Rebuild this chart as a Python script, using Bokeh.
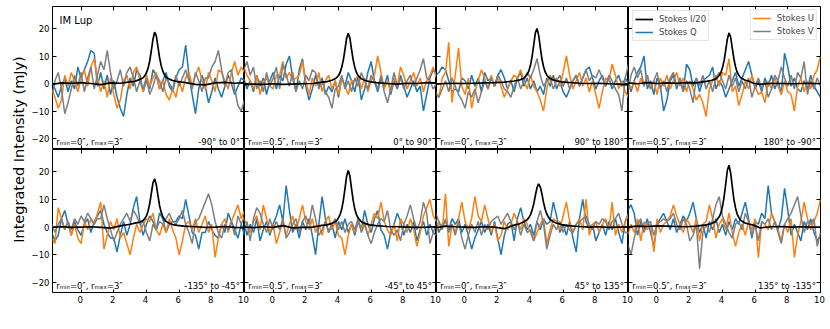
import numpy as np
from bokeh.plotting import figure
from bokeh.layouts import gridplot, row, column
from bokeh.models import (LinearAxis, FixedTicker, Label, Legend, LegendItem,
                          Range1d, CustomJSTickFormatter)
from bokeh.embed import file_html
from bokeh.resources import INLINE

FONT = "DejaVu Sans"
BLUE, ORANGE, GRAY = "#1f77b4", "#ff7f0e", "#7f7f7f"

# spectral channels of the polarisation spectra (km/s)
velocity = np.round(np.linspace(-1.8, 10.0, 60), 1)
# channels of the Stokes I/20 profile
vel_I = [-1.8, -1.2, -0.6, 0.0, 0.6, 1.2, 1.8, 2.4, 3.0, 3.3, 3.6, 3.8, 3.9,
         4.0, 4.1, 4.2, 4.3, 4.4, 4.5, 4.6, 4.7, 4.8, 4.9, 5.0, 5.1, 5.2,
         5.4, 5.6, 5.9, 6.3, 7.0, 7.6, 8.2, 8.8, 9.4, 10.0]

# ---- Stokes I / 20 (mJy) ----
I1 = [-0.3, 0.2, 0.1, 0.3, 0.0, -0.4, 0.2, 0.1, 0.6, 0.8, 1.5, 2.1, 2.8, 3.9, 5.6, 8.2, 12.0, 16.1, 18.7, 17.4, 13.5, 9.5, 6.5, 4.5, 3.2, 2.3, 1.6, 1.1, 0.7, 0.4, -0.3, -0.5, 0.2, 0.4, 0.1, 0.3]
I2 = [-0.4, -0.2, -0.3, -0.1, -0.3, -0.2, -0.1, 0.0, 0.5, 0.7, 1.2, 1.7, 2.2, 2.9, 4.0, 5.9, 8.6, 12.4, 16.5, 18.3, 16.5, 12.4, 8.6, 5.9, 4.0, 2.9, 1.7, 1.2, 0.7, 0.3, 0.0, -0.2, 0.1, 0.0, 0.3, 0.2]
I3 = [-0.2, 0.0, 0.1, 0.0, 0.1, 0.2, 0.3, 0.5, 0.9, 1.2, 1.9, 3.3, 4.5, 6.6, 9.8, 14.0, 18.4, 20.0, 17.6, 13.2, 9.0, 6.2, 4.2, 3.1, 2.3, 1.9, 1.3, 1.0, 0.6, 0.4, 0.1, 0.0, 0.1, -0.1, -0.2, -0.5]
I4 = [0.2, -0.1, 0.3, 0.0, 0.2, 0.1, 0.3, 0.2, 0.8, 1.1, 1.7, 2.9, 3.9, 5.7, 8.3, 12.1, 16.2, 18.4, 16.9, 12.9, 9.0, 6.1, 4.1, 3.0, 2.2, 1.8, 1.2, 0.9, 0.1, -0.3, 0.1, 0.0, -0.1, 0.0, 0.1, -0.1]
I5 = [0.0, 0.1, -0.1, 0.0, 0.1, -0.1, -0.4, 0.4, 1.0, 1.4, 1.8, 2.4, 3.1, 4.0, 5.8, 8.5, 12.2, 16.0, 17.4, 15.3, 11.5, 7.8, 5.4, 3.7, 2.7, 2.0, 1.4, 0.9, 0.6, 0.3, 0.1, -0.1, 0.0, 0.2, -0.1, -0.2]
I6 = [0.0, -0.2, 0.1, -0.1, 0.5, -0.3, -0.1, 0.0, 0.6, 0.8, 1.3, 1.9, 2.4, 3.3, 4.5, 6.5, 9.6, 13.9, 18.4, 20.4, 18.4, 13.9, 9.6, 6.5, 4.5, 3.3, 1.9, 1.3, 0.8, 0.5, 0.2, 0.1, 0.0, -0.1, 0.0, 0.2]
I7 = [-0.2, 0.3, 0.1, 0.0, -0.1, 0.1, 0.0, -0.6, 0.7, 1.1, 1.9, 2.6, 3.4, 4.4, 6.1, 8.3, 11.4, 14.2, 15.6, 14.5, 12.0, 8.9, 6.4, 4.7, 3.6, 2.7, 1.9, 1.4, 0.9, 0.5, 0.2, 0.0, 0.1, -0.1, 0.0, 0.1]
I8 = [0.1, 0.3, 0.2, 0.4, 0.3, 0.2, 0.1, 0.3, 0.8, 1.2, 2.1, 3.7, 5.0, 7.4, 10.9, 15.6, 20.5, 22.3, 19.6, 14.7, 10.0, 6.9, 4.7, 3.5, 2.6, 2.1, 1.4, 1.1, 0.7, -0.3, 0.1, 0.2, 0.0, 0.1, 0.0, 0.0]

# ---- Stokes Q (mJy) ----
Q1 = [1, -2, -5, -1, 2, -3, 1, -2, 6, 2, 5, 8, 12, 11, -1, 4, -2, 3, -4, 1, -5, -9, -12, -4, 2, -1, 5, 3, -3, 1, -2, 5, 3, -2, 1, 4, -1, -3, 2, 5, 6, 14, 3, -4, -11, -2, 3, -1, -7, -3, 2, -2, -5, -1, 3, 0, -4, -1, 2, 1]
Q2 = [2, -2, 1, -3, 3, -1, 2, -4, 1, 4, -2, 3, 1, 7, 10, 2, -3, 5, 9, -1, -6, -2, 3, -1, 2, -4, -1, -3, 1, -5, 2, -1, 4, 1, -3, 3, -6, -2, 4, 8, 1, -3, 2, -1, 3, -4, 1, -2, 3, -1, -5, -2, 1, -3, -1, -10, -4, 2, 5, 3]
Q3 = [3, 4, 6, 5, 1, -3, -2, -3, 2, 1, -2, 3, -1, 2, -3, 4, 1, 2, -1, 3, 5, 2, -2, 1, -3, 2, 4, -1, 2, -2, 1, -3, -1, -4, 2, -1, 3, -2, 1, -3, -5, -2, 1, 3, -1, 2, 5, 6, 2, -2, 1, 3, -1, 2, -2, 1, 3, -1, 2, 0]
Q4 = [2, -3, 1, 4, 6, 10, -2, 1, -4, 2, -1, -10, -6, 1, 3, -2, 2, -3, 7, 5, -1, 2, -3, 1, 2, 3, 6, -2, 1, -1, -5, -2, 1, 4, -1, 2, 5, 8, 3, -2, 1, -3, 2, -1, 3, -2, 1, -4, 11, 6, -1, 2, -2, -3, 1, -2, 3, -1, -3, -5]
Q5 = [-2, -5, -3, 3, 6, 1, -3, 2, -1, -3, 1, 3, -2, 2, 4, 6, 1, -2, -4, -4, -9, -3, 2, -3, 1, 7, 11, 2, -3, 1, 4, 2, -1, 5, 3, -2, 1, 2, 2, 4, 3, 10, 4, -2, -3, -8, -2, -2, 2, -1, -3, -4, 1, -2, 5, 2, -1, -4, 1, -3]
Q6 = [2, -3, 1, -2, 3, -5, -1, 2, -3, 1, 4, 8, 2, 15, 6, -2, 1, -4, 2, -1, 3, -3, -10, 1, 11, 3, -2, 1, -4, 2, -1, 3, -2, 1, -3, 2, -1, 6, 1, -2, 3, 6, -1, -3, -8, -2, 1, 5, 2, -3, 1, -2, 2, -5, -1, 2, -3, 1, -2, -3]
Q7 = [3, -2, 1, 2, -1, 3, 1, 3, -2, 1, -3, -8, -4, -1, 2, -2, 1, -3, 2, -4, -10, -3, 1, 2, -5, 3, 7, 2, -1, 1, -3, 2, -1, 3, 1, 2, 9, 4, -2, 1, -3, 2, -4, -9, 3, 10, 2, -1, 1, -5, -2, 1, -3, 2, -1, 3, -2, -6, 2, 5]
Q8 = [6, 8, 5, -3, 2, -1, 3, -2, -7, 1, 3, 5, 2, -1, 3, -2, 1, 4, 2, 5, 9, 3, -2, 1, -4, 2, -1, 3, -2, 1, -3, 2, -1, 3, 1, 5, 9, 3, -4, 2, 1, 5, 3, 15, 5, 2, -1, 3, 14, 6, -3, 1, -2, -5, 2, -1, 3, -2, -5, -3]

# ---- Stokes U (mJy) ----
U1 = [-2, -5, -9, -6, 3, -1, 4, 1, -3, 2, 5, -1, 6, 9, 2, -3, 1, -5, 2, -4, -9, -6, 1, 3, -2, 4, 6, 1, -3, 3, -1, 2, 4, -2, 1, -4, -6, -2, -5, 1, -3, 2, 4, -1, 3, 6, 1, -2, 4, 1, -3, 5, 4, 1, -2, 4, 8, 3, 6, 4]
U2 = [6, 3, 1, -2, 3, -4, 1, 2, -1, -2, 3, 3, 8, 2, 4, 1, 2, 3, 8, 1, -4, 2, -1, 4, -3, 1, 3, -2, 1, -4, 2, -1, -4, 1, 1, 3, -2, 2, -3, 1, 3, 10, 4, -2, 1, -3, 2, -1, 6, 3, -2, 1, 4, -1, 2, -3, 1, 3, 6, 2]
U3 = [-3, -5, 2, 4, 15, -7, 3, 13, -1, -4, 2, -9, -3, 1, 5, 2, -2, 3, -1, 2, -1, -5, -2, 1, 3, 2, 5, 1, -2, 3, -1, -3, -6, -10, -2, 3, 1, 2, -1, 4, 10, 3, -2, 1, 4, -1, 2, -3, 1, -4, -9, -3, 2, 1, 7, 3, -2, 1, -3, -5]
U4 = [-1, -2, 1, -3, 2, -1, 3, -2, 1, -4, 2, -1, 3, -2, 1, 4, -1, 2, -3, 1, -2, -6, -4, -7, -12, -2, 1, 3, -1, 4, 3, 9, -3, -1, -8, -4, 1, -2, 3, -1, -4, -3, -7, 1, -2, 2, -1, -4, 1, -3, -4, -10, -1, 2, -3, 1, -2, 3, 5, 10]
U5 = [-4, -6, 7, 3, -1, 2, -3, 1, -4, -6, 2, -1, 3, 1, 5, 9, -8, -3, 2, -1, 3, -4, -2, -6, -10, -4, 1, -2, 1, 3, 2, 5, -1, -3, 1, -2, 3, -1, -4, -10, -5, 1, 2, -1, 3, -2, 1, 4, -2, 1, -11, -4, 1, 3, -2, 2, 5, 8, 3, 6]
U6 = [3, 1, -2, 2, 4, -1, 8, 3, -2, 1, -6, -2, 2, -3, 1, 4, -1, 3, 8, 2, -1, 3, -2, 1, -3, 2, 4, -1, 2, -3, -4, -10, -3, 1, -2, 3, -1, 2, -3, 1, 5, 3, 9, 2, -1, -3, 1, -5, 3, 1, -2, 3, -1, -7, -2, 4, 7, 10, 4, 2]
U7 = [-3, 2, -1, 12, -7, 1, -2, 3, 9, 2, -1, 3, 11, 4, 2, 8, 3, -2, 1, -5, -3, 2, -1, 1, 5, 2, -1, 3, 1, -2, -5, -2, 1, 3, -6, -1, 3, 2, -1, 4, 9, 2, -2, 1, 3, -1, 10, -3, 1, 2, -2, 1, 3, -1, 9, -3, 1, -2, 2, 4]
U8 = [-3, 1, -2, 3, -5, 2, -1, 1, -9, 3, -2, 1, 2, 4, 8, 4, 1, -2, 3, 1, -2, 3, -5, 1, 2, 8, 3, -4, 1, 3, -1, 5, -2, -7, -2, 1, -3, 2, -1, 3, -11, 2, 1, -1, 5, 2, -1, -5, 1, -2, 3, -11, -3, 2, 9, 3, -1, 2, 5, 10]

# ---- Stokes V (mJy) ----
V1 = [-5, 1, 4, -2, -11, -7, -2, 3, -1, 4, -3, 2, 6, -2, 3, 8, 5, 12, 4, -2, 1, 5, -1, 4, 6, 2, -3, 1, -2, 2, -4, -1, 3, 1, -3, 2, 0, -2, 3, -1, 2, 5, 1, -2, 4, 1, -3, 2, 2, 6, 8, 12, 5, -1, 4, 5, -2, -8, -10, -6]
V2 = [5, 8, 3, 6, -2, 1, -3, 4, -1, 2, 6, -2, 7, 3, -1, 4, -3, 1, -2, 3, 1, 5, 4, -2, 1, -3, -5, -9, -2, -1, 3, -2, 1, -3, 2, -1, 4, 1, -2, 3, 1, -2, 3, -3, -7, -2, 4, -1, 2, -2, 1, 3, -1, 2, 5, 9, 2, 1, -2, 0]
V3 = [-4, -5, -2, 1, -3, 2, -1, -4, -6, -9, -3, -5, -2, -7, -3, 1, -2, 2, -1, 3, 1, -2, -3, -5, -1, 2, -2, 1, 4, 2, 5, 9, 3, -1, 1, 2, -2, 1, 3, -1, 2, -2, 1, 3, -1, 2, 5, 1, 3, 2, 5, 2, -1, 3, 1, -2, -4, -10, 2, 7]
V4 = [-4, 3, 6, 2, 5, -1, 3, -2, 1, 4, -2, 1, -3, 2, 4, -1, 2, -3, 1, -2, -7, 2, -1, 3, -2, 1, -3, 2, 4, 1, -2, 3, -1, 2, -3, 1, -2, 2, -5, -1, 2, -2, 1, -5, -2, 3, 1, 6, 2, -1, 3, -2, 4, 2, 8, -4, 1, -2, 2, -1]
V5 = [1, -2, 1, 3, -1, 2, -1, 3, 1, 4, 2, 5, 3, 1, 3, 3, 8, 3, -1, -5, -2, 1, 3, 5, 2, 6, 4, 1, 2, -2, -5, 1, -1, 2, 1, 3, 5, 2, 1, 3, 6, 1, -2, -6, 2, 3, 6, 9, 12, 8, 2, -2, -4, 1, -1, 2, -3, 4, 1, 4]
V6 = [-3, 2, -5, 3, 7, 5, 1, -2, 3, -1, 2, -1, 3, -4, -2, 1, 3, -2, 2, 4, 1, 8, 3, -3, -1, 2, -2, 1, 3, -1, 2, -2, 1, 2, -1, 3, -2, 1, -3, -6, -2, 1, 3, 2, 6, -1, -3, -1, -5, 1, 4, 8, 3, -1, 2, 9, 5, -6, -2, 1]
V7 = [5, 2, -1, 3, -2, 1, -3, 2, -4, -8, -3, 1, -2, 2, -3, 1, -1, 2, 3, 4, 1, 3, 5, 2, -1, 2, -3, 1, -2, -1, -5, 2, 6, 1, -8, -3, 1, -1, 2, -2, 1, -1, -2, 1, 2, 3, 4, 1, -1, 2, 1, 3, 2, -1, 2, 3, 5, 1, -2, -2]
V8 = [-6, -10, -4, 1, 3, -2, 1, 2, -3, 1, 2, 3, 2, 3, 5, 1, -1, 3, 1, -5, -3, 1, -15, -2, 1, -2, 3, 8, 11, 4, 1, -2, -4, 1, 2, -1, 5, 2, -3, 1, -5, 2, 1, 3, -1, 2, -2, -6, 1, 3, 5, 8, 11, 4, -2, 2, 1, 3, -7, -2]

x_ticks = [0, 2, 4, 6, 8, 10]
y_ticks = [-20, -10, 0, 10, 20]
x_start, x_end = -1.75, 10.0
radius_labels = ["rₘᵢₙ=0″, rₘₐₓ=3″", "rₘᵢₙ=0.5″, rₘₐₓ=3″"] * 4
angle_labels = ["-90° to 0°", "0° to 90°", "90° to 180°", "180° to -90°",
                "-135° to -45°", "-45° to 45°", "45° to 135°", "135° to -135°"]

panels = [(I1, Q1, U1, V1), (I2, Q2, U2, V2), (I3, Q3, U3, V3), (I4, Q4, U4, V4),
          (I5, Q5, U5, V5), (I6, Q6, U6, V6), (I7, Q7, U7, V7), (I8, Q8, U8, V8)]

blank = CustomJSTickFormatter(code="return '';")
minus = CustomJSTickFormatter(code="return tick < 0 ? '\u2212' + Math.abs(tick) : String(tick);")


def style_axis(ax, show, fmt=None):
    ax.axis_line_color = None
    ax.major_tick_in = 4
    ax.major_tick_out = 0
    ax.major_tick_line_color = "black"
    ax.major_tick_line_width = 1
    ax.minor_tick_line_color = None
    if show:
        ax.major_label_text_font_size = "8.5px"
        ax.major_label_text_font = FONT
        ax.major_label_text_color = "black"
        ax.major_label_standoff = 3
        if fmt is not None:
            ax.formatter = fmt
    else:
        ax.formatter = blank
        ax.major_label_text_font_size = "0px"
        ax.major_label_standoff = 0


figs = []
for k, (I, Q, U, V) in enumerate(panels):
    r, c = divmod(k, 4)
    p = figure(frame_width=192, frame_height=143 if r == 0 else 144,
               x_range=Range1d(x_start, x_end), y_range=Range1d(-24, 28),
               output_backend="svg", toolbar_location=None, tools="",
               x_axis_location=None, y_axis_location=None, min_border=0,
               min_border_top=6 if r == 0 else 0, min_border_bottom=0,
               min_border_right=10 if c == 3 else 0,
               background_fill_color="white", border_fill_color=None,
               outline_line_color="black", outline_line_width=1)
    p.grid.visible = False
    for side in ("below", "above"):
        ax = LinearAxis(ticker=FixedTicker(ticks=x_ticks, minor_ticks=[]))
        style_axis(ax, False)
        p.add_layout(ax, side)
    for side in ("left", "right"):
        ax = LinearAxis(ticker=FixedTicker(ticks=y_ticks, minor_ticks=[]))
        style_axis(ax, side == "left" and c == 0, minus)
        p.add_layout(ax, side)

    rq = p.line(velocity, Q, line_color=BLUE, line_width=1.5)
    ru = p.line(velocity, U, line_color=ORANGE, line_width=1.5)
    rv = p.line(velocity, V, line_color=GRAY, line_width=1.5)
    ri = p.line(vel_I, I, line_color="black", line_width=1.7)

    p.add_layout(Label(x=-1.52, y=-21.3, text=radius_labels[k], text_align="left",
                       text_baseline="alphabetic", text_font=FONT,
                       text_font_size="8.5px", text_color="black"))
    p.add_layout(Label(x=9.72, y=-21.3, text=angle_labels[k], text_align="right",
                       text_baseline="alphabetic", text_font=FONT,
                       text_font_size="8.5px", text_color="black"))
    if k == 0:
        p.add_layout(Label(x=-1.32, y=22.8, text="IM Lup", text_align="left",
                           text_baseline="alphabetic", text_font=FONT,
                           text_font_size="10px", text_color="black"))
    if k == 3:
        leg1 = Legend(items=[LegendItem(label="Stokes I/20", renderers=[ri]),
                             LegendItem(label="Stokes Q", renderers=[rq])],
                      location="top_left", margin=4)
        leg2 = Legend(items=[LegendItem(label="Stokes U", renderers=[ru]),
                             LegendItem(label="Stokes V", renderers=[rv])],
                      location="top_right", margin=3)
        for lg in (leg1, leg2):
            lg.padding = 2
            lg.spacing = 1
            lg.glyph_width = 18
            lg.glyph_height = 12
            lg.label_height = 12
            lg.label_standoff = 6
            lg.label_text_font = FONT
            lg.label_text_font_size = "8.5px"
            lg.border_line_color = "#cccccc"
            lg.border_line_width = 1
            lg.background_fill_alpha = 0.8
            p.add_layout(lg)
    figs.append(p)

grid = gridplot([figs[:4], figs[4:]], toolbar_location=None)

ylab = figure(width=28, height=293, output_backend="svg", toolbar_location=None, tools="",
              x_axis_location=None, y_axis_location=None, min_border=0,
              outline_line_color=None, background_fill_color=None, border_fill_color=None,
              x_range=Range1d(0, 1), y_range=Range1d(0, 1))
ylab.grid.visible = False
ylab.add_layout(Label(x=18, y=144, x_units="screen", y_units="screen",
                      text="Integrated Intensity (mJy)", angle=90, angle_units="deg",
                      text_align="center", text_baseline="middle",
                      text_font=FONT, text_font_size="14.5px", text_color="black"))

# Shared strip under the bottom row: the velocity tick labels of the four
# panels (one velocity span per panel, side by side) and the x-axis title.
span = x_end - x_start
strip_ticks = [k * span + (t - x_start) for k in range(4) for t in x_ticks]
strip_fmt = CustomJSTickFormatter(
    args=dict(span=span, x0=x_start),
    code="""
    const r = (((tick + x0) % span) + span) % span;
    let v = Math.round(r);
    if (v > 10) { v = 0; }
    return String(v);
    """)

xlab = figure(frame_width=768, frame_height=1, output_backend="svg",
              toolbar_location=None, tools="",
              x_axis_location=None, y_axis_location=None, min_border=0,
              min_border_left=51, min_border_right=10, min_border_top=0,
              min_border_bottom=10,
              outline_line_color=None, background_fill_color=None,
              border_fill_color=None, x_range=Range1d(0, 4 * span),
              y_range=Range1d(0, 1))
xlab.grid.visible = False
xax = LinearAxis(ticker=FixedTicker(ticks=strip_ticks, minor_ticks=[]),
                 formatter=strip_fmt)
xax.axis_line_color = None
xax.major_tick_line_color = None
xax.minor_tick_line_color = None
xax.major_tick_in = 0
xax.major_tick_out = 0
xax.major_label_standoff = 1
xax.major_label_text_font = FONT
xax.major_label_text_font_size = "8.5px"
xax.major_label_text_color = "black"
xlab.add_layout(xax, "below")
xlab.add_layout(Label(x=(421 - 51) / 768 * 4 * span, y=-23.0,
                      text="Velocity (km s⁻¹)", text_align="center",
                      text_baseline="alphabetic", text_font=FONT,
                      text_font_size="14px", text_color="black"))

layout = column(row(ylab, grid), xlab)

with open("out.html", "w") as f:
    f.write(file_html(layout, INLINE, title="IM Lup Stokes spectra"))
